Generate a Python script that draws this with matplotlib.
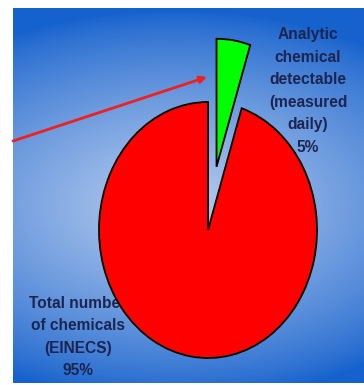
import numpy as np
import matplotlib.pyplot as plt

shares = [95, 5]
colors = ['#ff0000', '#00ff00']
explode = [0, 0.5]
big_label = 'Total number\nof chemicals\n(EINECS)\n95%'
small_label = 'Analytic\nchemical\ndetectable\n(measured\ndaily)\n5%'

W, H = 364, 385
fig = plt.figure(figsize=(W / 100, H / 100), dpi=100)
fig.patch.set_facecolor('white')

# pie units: centre at pixel (208, 230), radius 109 px across, 128 px down
cx, cy, rx, ry = 208, 230, 109, 128
def px(x, y):
    return (x - cx) / rx, (cy - y) / ry

ax = fig.add_axes([0, 0, 1, 1])
ax.set_axis_off()

# blue slide background, lighter band through the middle
gx = np.linspace(13, W, 300)
gy = np.linspace(8, 383, 300)
X, Y = np.meshgrid(gx, gy)
r = np.sqrt(((X - 175) / 330) ** 2 + ((Y - 205) / 195) ** 2)
f = np.clip(1 - r, 0, 1) ** 0.8
dark = np.array([22, 98, 205]) / 255
light = np.array([185, 205, 238]) / 255
img = dark[None, None, :] * (1 - f[..., None]) + light[None, None, :] * f[..., None]
x0, y0 = px(13, 8)
x1, y1 = px(W, 383)
ax.imshow(img, extent=(x0, x1, y1, y0), origin='upper', zorder=0, aspect='auto')

wedges, _ = ax.pie(shares, colors=colors, explode=explode, startangle=90,
                   counterclock=True, radius=1,
                   wedgeprops=dict(edgecolor='black', linewidth=1.3))
for w in wedges:
    w.set_zorder(3)
ax.set_aspect('auto')
ax.set_xlim(px(0, 0)[0], px(W, 0)[0])
ax.set_ylim(px(0, H)[1], px(0, 0)[1])

font = dict(family='Liberation Sans', fontsize=11.2, weight='bold',
            color='#1c2450', ha='center', va='center', linespacing=1.62)
ax.text(*px(308, 91), small_label, zorder=2, **font)
ax.text(*px(78, 337), big_label, zorder=2, **font)

ax.annotate('', xy=px(207, 77), xytext=px(13, 141),
            arrowprops=dict(arrowstyle='-|>', color='#ee2020', lw=2,
                            mutation_scale=10, shrinkA=0, shrinkB=0),
            zorder=2)

fig.savefig('out.png', dpi=100)
